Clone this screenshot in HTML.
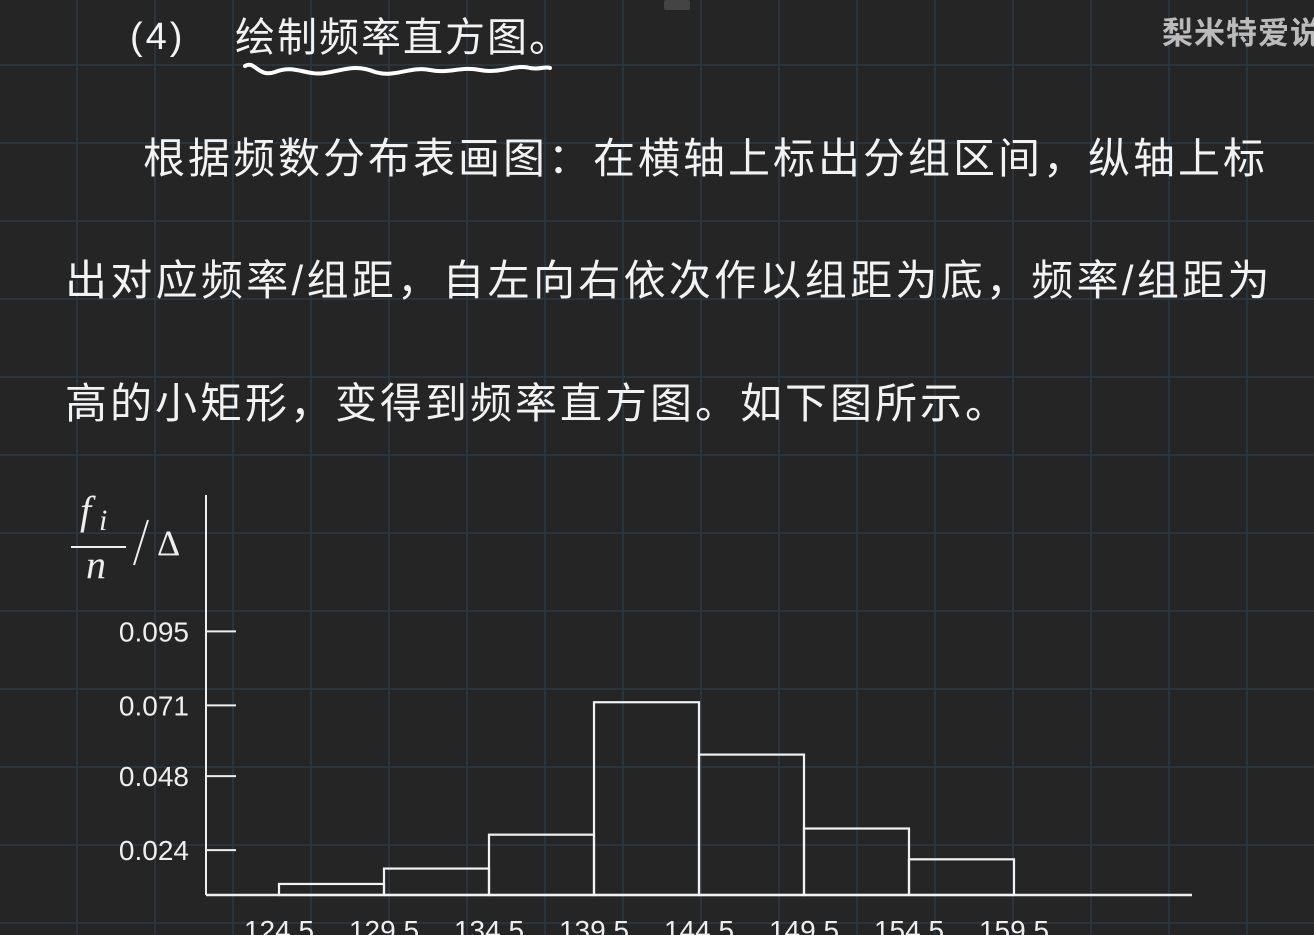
<!DOCTYPE html>
<html><head><meta charset="utf-8">
<style>
html,body{margin:0;padding:0;background:#252525;}
body{width:1314px;height:935px;overflow:hidden;position:relative;font-family:"Liberation Sans","Noto Sans CJK SC",sans-serif;color:#f2f2f2;}
svg{position:absolute;left:0;top:0;}
.p{position:absolute;font-size:42px;letter-spacing:3px;white-space:nowrap;line-height:1;}
</style></head>
<body>
<svg id="bg" width="1314" height="935"></svg>
<div class="p" style="left:130px;top:18px;font-size:38px;">(4)</div>
<div class="p" style="left:235px;top:18px;font-size:40px;letter-spacing:2px;">绘制频率直方图。</div>
<div class="p" style="left:1162px;top:18px;font-size:31px;font-weight:bold;color:#bbb;letter-spacing:1px;">梨米特爱说</div>
<div class="p" style="left:143px;top:138px;letter-spacing:3px;">根据频数分布表画图：在横轴上标出分组区间，纵轴上标</div>
<div class="p" style="left:65px;top:260px;letter-spacing:3.3px;">出对应频率/组距，自左向右依次作以组距为底，频率/组距为</div>
<div class="p" style="left:65px;top:383px;letter-spacing:3px;">高的小矩形，变得到频率直方图。如下图所示。</div>
<svg id="chart" width="1314" height="935"></svg>
<script>
const binEdges=[124.5,129.5,134.5,139.5,144.5,149.5,154.5,159.5];
const barValues=[0.013,0.018,0.029,0.072,0.055,0.031,0.021];
const yTicks=[0.024,0.048,0.071,0.095];
const yTickLabels=["0.024","0.048","0.071","0.095"];
const xLabels=["124.5","129.5","134.5","139.5","144.5","149.5","154.5","159.5"];

const NS="http://www.w3.org/2000/svg";
function mk(parent,tag,attrs){const e=document.createElementNS(NS,tag);for(const k in attrs)e.setAttribute(k,attrs[k]);parent.appendChild(e);return e;}
const bg=document.getElementById('bg');
for(let x=77;x<1314;x+=78){const l=mk(bg,'line',{x1:x,y1:0,x2:x,y2:935,stroke:'#2b3945','stroke-width':1.5});

}
for(let y=65;y<935;y+=78){const l=mk(bg,'line',{x1:0,y1:y,x2:1314,y2:y,stroke:'#2b3945','stroke-width':1.5});

}
const w=mk(bg,'path',{d:'M245,66 C255,60 258,78 275,72 C295,64 305,76 325,73 C345,70 355,64 375,72 C395,78 410,66 430,70 C450,74 460,66 480,70 C500,74 515,64 530,68 C540,70 545,66 550,68',fill:'none',stroke:'#fff','stroke-width':4,'stroke-linecap':'round'});


const ic=mk(bg,'rect',{x:664,y:0,width:26,height:10,rx:2,fill:'#444'});



const svg=document.getElementById('chart');
const X0=206,BASE=895;
function xs(v){return 279+(v-124.5)*(105/5);}
function ys(v){return 924-3080*v;}
const ya=mk(svg,'line',{x1:X0,y1:495,x2:X0,y2:BASE,stroke:'#eee','stroke-width':2});


const xa=mk(svg,'line',{x1:X0,y1:BASE,x2:1192,y2:BASE,stroke:'#eee','stroke-width':2.5});


barValues.forEach((v,i)=>{
 const x1=xs(binEdges[i]),x2=xs(binEdges[i+1]),y=ys(v);
 const r=mk(svg,'rect',{x:x1,y:y,width:x2-x1,height:BASE-y,fill:'none',stroke:'#f2f2f2','stroke-width':2.2});
 
 
});
yTicks.forEach((v,i)=>{
 const y=ys(v);
 const t=mk(svg,'line',{x1:X0,y1:y,x2:236,y2:y,stroke:'#eee','stroke-width':2});
 
 
 const tx=mk(svg,'text',{x:189,y:y+10,'text-anchor':'end','font-size':28,fill:'#eee','font-family':'Liberation Sans, sans-serif'});
 tx.textContent=yTickLabels[i];
 
 
});
xLabels.forEach((s,i)=>{
 const tx=mk(svg,'text',{x:xs(binEdges[i]),y:940,'text-anchor':'middle','font-size':28,fill:'#eee','font-family':'Liberation Sans, sans-serif'});
 tx.textContent=s;
 
 
});
const g=mk(svg,'g',{fill:'#eee','font-family':'Liberation Serif, serif'});


const f=mk(g,'text',{x:80,y:524,'font-size':40,'font-style':'italic'});f.textContent='f';
const fi=mk(g,'text',{x:99,y:530,'font-size':30,'font-style':'italic'});fi.textContent='i';
mk(g,'line',{x1:71,y1:547,x2:126,y2:547,stroke:'#eee','stroke-width':2});
const n=mk(g,'text',{x:86,y:578,'font-size':40,'font-style':'italic'});n.textContent='n';
mk(g,'line',{x1:148,y1:520,x2:134,y2:565,stroke:'#eee','stroke-width':2});
const dl=mk(g,'text',{x:157,y:555,'font-size':36});dl.textContent='Δ';
</script>
</body></html>
